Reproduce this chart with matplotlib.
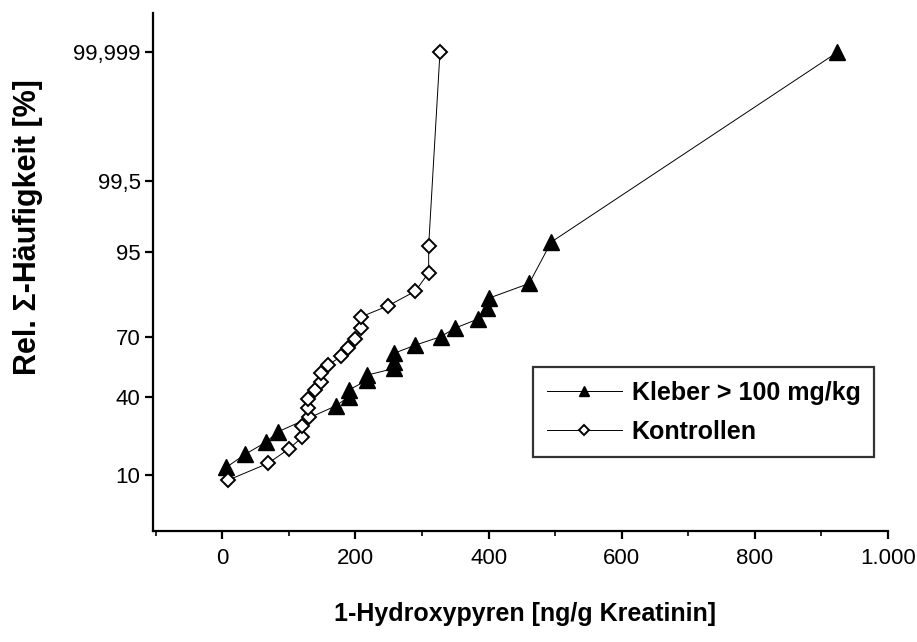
from statistics import NormalDist

import numpy as np
import matplotlib
matplotlib.use('Agg')
import matplotlib.pyplot as plt
from matplotlib.ticker import FixedLocator, MultipleLocator

plt.rcParams.update({
    'font.family':       ['Liberation Sans', 'DejaVu Sans'],
    'font.size':         16,
    'axes.linewidth':    1.6,
    'axes.spines.top':   False,
    'axes.spines.right': False,
})

# ── data ─────────────────────────────────────────────────────────────────────
kleber_x = [6, 34, 65, 84, 171, 190, 190, 218, 218, 258, 258, 258, 290,
            328, 349, 384, 397, 401, 461, 494, 924]
kleber_p = [11.9, 15.6, 19.7, 23.8, 35.5, 40.0, 43.4, 48.6, 51.2, 54.7,
            58.1, 62.4, 66.4, 70.3, 74.0, 77.8, 81.7, 85.1, 89.1, 96.2,
            99.999]

kontr_x = [9, 69, 100, 120, 120, 130, 129, 129, 139, 149, 149, 159, 179,
           189, 199, 209, 209, 249, 290, 310, 310, 327]
kontr_p = [8.9, 13.0, 17.4, 21.6, 26.3, 30.0, 34.2, 38.8, 43.4, 47.4, 52.1,
           56.4, 61.0, 65.1, 69.2, 74.0, 78.7, 82.6, 87.1, 91.5, 95.8,
           99.999]

y_ticks  = [10, 40, 70, 95, 99.5, 99.999]
y_labels = ['10', '40', '70', '95', '99,5', '99,999']
x_ticks  = [0, 200, 400, 600, 800, 1000]
x_labels = ['0', '200', '400', '600', '800', '1.000']

ND = NormalDist()


def probit(p):
    # Wahrscheinlichkeitsnetz: Prozent -> Normalquantil
    return np.array([ND.inv_cdf(v / 100.0) for v in p])


# ── figure ───────────────────────────────────────────────────────────────────
fig = plt.figure(figsize=(9.17, 6.42), dpi=100)
ax = fig.add_axes([0.1669, 0.1729, 0.8015, 0.8069])

ax.plot(kleber_x, probit(kleber_p), color='black', lw=0.7,
        marker='^', ms=11, mfc='black', mec='black',
        label='Kleber > 100 mg/kg')
ax.plot(kontr_x, probit(kontr_p), color='black', lw=0.7,
        marker='D', ms=7, mfc='white', mec='black', mew=1.4,
        label='Kontrollen')

ax.set_xlim(-104, 1000)
ax.set_ylim(-2.015, 4.78)

ax.xaxis.set_major_locator(FixedLocator(x_ticks))
ax.set_xticklabels(x_labels)
ax.xaxis.set_minor_locator(MultipleLocator(100))
ax.yaxis.set_major_locator(FixedLocator(probit(y_ticks)))
ax.set_yticklabels(y_labels)

ax.tick_params(axis='both', which='major', direction='out', length=6,
               width=1.6, labelsize=16)
ax.tick_params(axis='x', which='minor', direction='out', length=3.5,
               width=1.2)
ax.tick_params(axis='x', which='major', pad=6)
ax.tick_params(axis='y', which='major', pad=3)

fig.text(0.572, 0.044, '1-Hydroxypyren [ng/g Kreatinin]', fontsize=18,
         fontweight='bold', ha='center', va='center')
fig.text(0.031, 0.646, 'Rel. Σ-Häufigkeit [%]', fontsize=22,
         fontweight='bold', ha='center', va='center', rotation=90)

leg = ax.legend(loc='upper left', bbox_to_anchor=(0.517, 0.317),
                borderaxespad=0, frameon=True, fancybox=False,
                edgecolor='black', fontsize=18, handlelength=3.0,
                borderpad=0.55, labelspacing=0.6, handletextpad=0.4,
                markerscale=0.7)
leg.get_frame().set_linewidth(1.6)
for t in leg.get_texts():
    t.set_fontweight('bold')

fig.savefig('out.png', dpi=100, facecolor='white')
plt.close(fig)
